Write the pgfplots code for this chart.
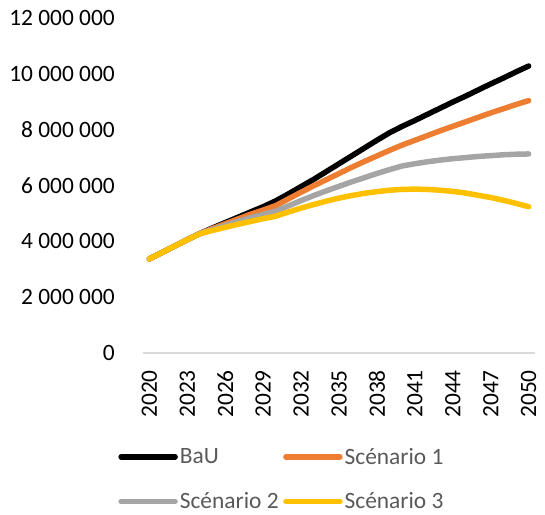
\documentclass[border=0pt]{standalone}
\usepackage{fontspec}
\setmainfont{Carlito}
\usepackage{pgfplots}
\pgfplotsset{compat=1.18}
\definecolor{cBaU}{HTML}{000000}
\definecolor{cS1}{HTML}{ED7D31}
\definecolor{cS2}{HTML}{A5A5A5}
\definecolor{cS3}{HTML}{FFC000}
\definecolor{legtext}{HTML}{595959}
\definecolor{axgray}{HTML}{D9D9D9}
\begin{document}
\begin{tikzpicture}
\useasboundingbox (-143bp,-162bp) rectangle (402bp,353bp);
\begin{axis}[
  at={(0,0)}, anchor=south west,
  scale only axis, width=392bp, height=335bp,
  xmin=2019.5, xmax=2050.5, ymin=0, ymax=12000000,
  scaled y ticks=false,
  axis x line=bottom, axis y line=left,
  axis line style={-},
  x axis line style={draw=axgray, line width=1.5bp},
  y axis line style={draw=none},
  major tick length=0pt,
  font=\fontsize{23.4bp}{28bp}\selectfont,
  xtick={2020,2023,2026,2029,2032,2035,2038,2041,2044,2047,2050},
  xticklabels={2020,2023,2026,2029,2032,2035,2038,2041,2044,2047,2050},
  xticklabel style={rotate=90, anchor=east, inner sep=0pt},
  xticklabel shift=17bp,
  ytick={0,2000000,4000000,6000000,8000000,10000000,12000000},
  yticklabels={0,2 000 000,4 000 000,6 000 000,8 000 000,10 000 000,12 000 000},
  yticklabel style={anchor=east, inner sep=0pt},
  yticklabel shift=28bp,
  legend columns=2,
  legend cell align=left,
  legend style={draw=none, fill=none, at={(-0.071,-0.2755)}, anchor=north west,
    text=legtext, font=\fontsize{23.4bp}{28bp}\selectfont,
    nodes={inner sep=0.5bp},
    /tikz/every odd column/.append style={column sep=1.5bp},
    /tikz/every even column/.append style={column sep=4bp},
    row sep=26bp},
  legend image code/.code={\draw[#1, line width=5.5bp, line cap=round] (0bp,0bp) -- (54bp,0bp);},
  every axis plot/.append style={line width=5.5bp, line cap=round, line join=round},
]
\addplot[cBaU] coordinates {
(2020,3370000)(2021,3600000)(2022,3830000)(2023,4060000)(2024,4280000)(2025,4480000)
(2026,4670000)(2027,4860000)(2028,5050000)(2029,5240000)(2030,5450000)(2031,5700000)
(2032,5960000)(2033,6220000)(2034,6500000)(2035,6780000)(2036,7060000)(2037,7340000)
(2038,7620000)(2039,7890000)(2040,8120000)(2041,8330000)(2042,8550000)(2043,8770000)
(2044,8990000)(2045,9200000)(2046,9420000)(2047,9640000)(2048,9850000)(2049,10070000)
(2050,10280000)};
\addlegendentry{BaU}
\addplot[cS1] coordinates {
(2020,3370000)(2021,3600000)(2022,3830000)(2023,4060000)(2024,4280000)(2025,4460000)
(2026,4630000)(2027,4800000)(2028,4970000)(2029,5120000)(2030,5280000)(2031,5520000)
(2032,5760000)(2033,5990000)(2034,6210000)(2035,6430000)(2036,6650000)(2037,6860000)
(2038,7060000)(2039,7260000)(2040,7450000)(2041,7620000)(2042,7790000)(2043,7960000)
(2044,8120000)(2045,8280000)(2046,8440000)(2047,8600000)(2048,8750000)(2049,8900000)
(2050,9040000)};
\addlegendentry{Scénario 1}
\addplot[cS2] coordinates {
(2020,3370000)(2021,3600000)(2022,3830000)(2023,4060000)(2024,4280000)(2025,4430000)
(2026,4570000)(2027,4710000)(2028,4840000)(2029,4960000)(2030,5080000)(2031,5270000)
(2032,5460000)(2033,5640000)(2034,5810000)(2035,5970000)(2036,6130000)(2037,6280000)
(2038,6430000)(2039,6570000)(2040,6700000)(2041,6780000)(2042,6850000)(2043,6910000)
(2044,6960000)(2045,7000000)(2046,7040000)(2047,7070000)(2048,7100000)(2049,7120000)
(2050,7130000)};
\addlegendentry{Scénario 2}
\addplot[cS3] coordinates {
(2020,3370000)(2021,3600000)(2022,3830000)(2023,4060000)(2024,4270000)(2025,4390000)
(2026,4500000)(2027,4610000)(2028,4710000)(2029,4810000)(2030,4900000)(2031,5050000)
(2032,5190000)(2033,5320000)(2034,5440000)(2035,5550000)(2036,5640000)(2037,5720000)
(2038,5780000)(2039,5830000)(2040,5860000)(2041,5870000)(2042,5860000)(2043,5830000)
(2044,5790000)(2045,5730000)(2046,5650000)(2047,5570000)(2048,5470000)(2049,5360000)
(2050,5240000)};
\addlegendentry{Scénario 3}
\end{axis}
\end{tikzpicture}
\end{document}
